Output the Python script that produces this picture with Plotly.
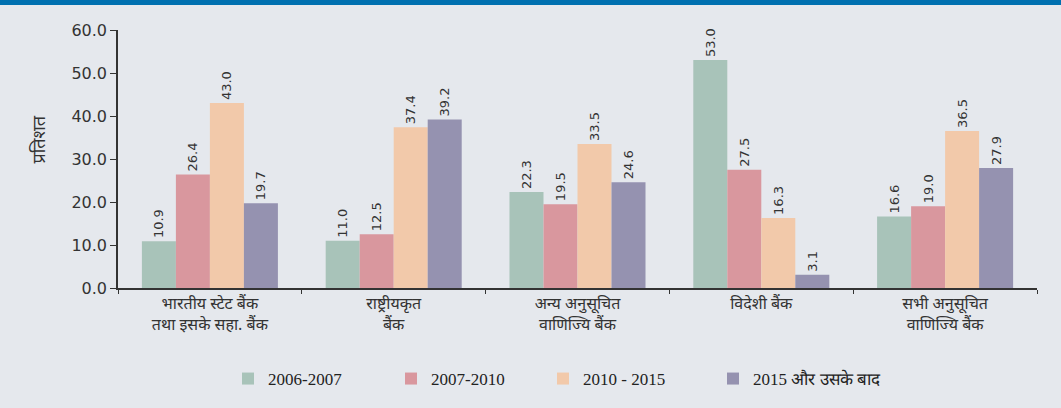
import plotly.graph_objects as go

# categories (Devanagari, two lines)
categories = [
    "भारतीय स्टेट बैंक<br>तथा इसके सहा. बैंक",
    "राष्ट्रीयकृत<br>बैंक",
    "अन्य अनुसूचित<br>वाणिज्यि बैंक",
    "विदेशी बैंक",
    "सभी अनुसूचित<br>वाणिज्यि बैंक",
]

series_names = ["2006-2007", "2007-2010", "2010 - 2015", "2015 और उसके बाद"]
vals_2006_2007 = [10.9, 11.0, 22.3, 53.0, 16.6]
vals_2007_2010 = [26.4, 12.5, 19.5, 27.5, 19.0]
vals_2010_2015 = [43.0, 37.4, 33.5, 16.3, 36.5]
vals_2015_after = [19.7, 39.2, 24.6, 3.1, 27.9]

colors = ["#a8c3b9", "#d9979e", "#f2c9aa", "#9592b0"]

W, H = 1061, 408
L, R, T, B = 118, 24, 30, 119
pw, ph = W - L - R, H - T - B

# one small legend per series so each entry sits where it does in the reference
legend_ids = ["legend", "legend2", "legend3", "legend4"]
legend_px = [228, 391, 543, 713]

fig = go.Figure()
for name, vals, col, lid in zip(series_names,
                                [vals_2006_2007, vals_2007_2010, vals_2010_2015, vals_2015_after],
                                colors, legend_ids):
    fig.add_trace(go.Bar(
        x=categories, y=vals, name=name,
        marker=dict(color=col, line=dict(width=0)),
        texttemplate="%{y:.1f}",
        textposition="outside",
        textangle=-90,
        textfont=dict(family="DejaVu Sans", size=13, color="#333333"),
        cliponaxis=False,
        legend=lid,
    ))

fig.update_layout(
    width=W, height=H,
    margin=dict(l=L, r=R, t=T, b=B),
    paper_bgcolor="#e5e8ed",
    plot_bgcolor="#e5e8ed",
    barmode="group",
    bargap=0.26,
    bargroupgap=0,
    showlegend=True,
    font=dict(family="Noto Sans, DejaVu Sans", color="#333333"),
)

for lid, px in zip(legend_ids, legend_px):
    fig.update_layout({lid: dict(
        orientation="h",
        x=(px - L) / pw, xanchor="left",
        y=(289 - 379) / ph, yanchor="middle",
        font=dict(family="Liberation Serif", size=17, color="#222222"),
        bgcolor="rgba(0,0,0,0)",
        itemclick=False,
    )})

fig.update_yaxes(
    range=[0, 60], dtick=10, tickformat=".1f",
    showgrid=False, zeroline=False,
    showline=True, linecolor="#333333", linewidth=1.5,
    ticks="outside", ticklen=6, tickcolor="#333333",
    tickfont=dict(family="DejaVu Sans", size=16, color="#333333"),
)
fig.update_xaxes(
    showgrid=False,
    showline=True, linecolor="#333333", linewidth=1.5,
    ticks="outside", ticklen=4, tickcolor="#333333",
    tickson="boundaries",
    tickfont=dict(family="Noto Sans, DejaVu Sans", size=16, color="#333333"),
)

# y axis title
fig.add_annotation(
    text="प्रतिशत", textangle=-90,
    xref="paper", yref="paper",
    x=(24 - L) / pw, y=(289 - 140) / ph,
    showarrow=False,
    font=dict(family="Noto Sans, DejaVu Sans", size=18, color="#333333"),
)

# blue strip along the top
fig.add_shape(
    type="rect", xref="paper", yref="paper",
    x0=-L / pw, x1=1 + R / pw,
    y0=(289 - 5) / ph, y1=(289 + 2) / ph + 0.2,
    fillcolor="#0070b0", line=dict(width=0), layer="above",
)

# page without the default body margin so the figure sits at 0,0
fig.write_html(
    "out.html",
    config={"displayModeBar": False},
    post_script="document.body.style.margin='0';",
)
